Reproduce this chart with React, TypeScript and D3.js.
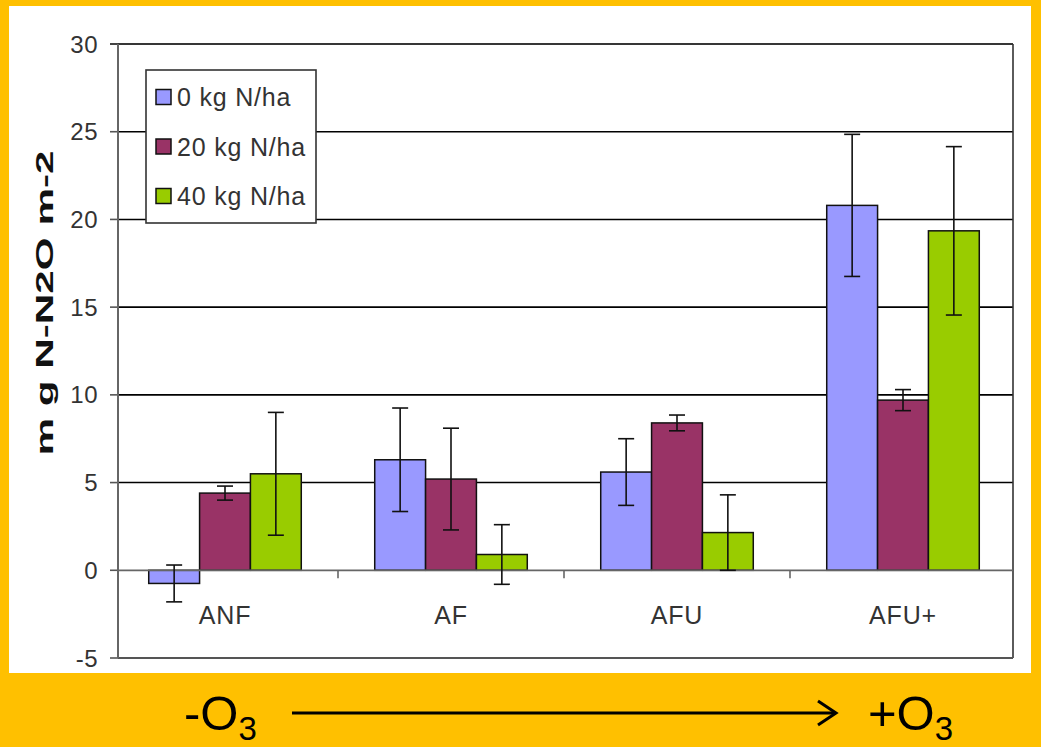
import React from "react";
import * as d3 from "d3";

const categories = ["ANF", "AF", "AFU", "AFU+"];
const seriesNames = ["0 kg N/ha", "20 kg N/ha", "40 kg N/ha"];
const seriesColors = ["#9999FF", "#993366", "#99CC00"];
const values0 = [-0.75, 6.3, 5.6, 20.8];
const values20 = [4.4, 5.2, 8.4, 9.7];
const values40 = [5.5, 0.9, 2.15, 19.35];
const errors0 = [1.05, 2.95, 1.9, 4.05];
const errors20 = [0.4, 2.9, 0.45, 0.6];
const errors40 = [3.5, 1.7, 2.15, 4.8];
const yTicks = [-5, 0, 5, 10, 15, 20, 25, 30];
const yLabel = "m g N-N2O m-2";

const W = 1041;
const H = 747;
const ORANGE = "#FFC000";

export default function App() {
  const plotL = 118;
  const plotR = 1013;
  const plotT = 44;
  const plotB = 658;
  const y = d3.scaleLinear().domain([-5, 30]).range([plotB, plotT]);
  const x0 = d3.scaleBand<string>().domain(categories).range([112, 1016]);
  const bw = x0.bandwidth();
  const groupW = bw * 0.675;
  const x1 = d3
    .scaleBand<string>()
    .domain(seriesNames)
    .range([(bw - groupW) / 2, (bw + groupW) / 2]);
  const vals = [values0, values20, values40];
  const errs = [errors0, errors20, errors40];
  const font = "'Liberation Sans', Arial, sans-serif";

  return (
    <svg
      width={W}
      height={H}
      style={{ position: "absolute", left: 0, top: 0, display: "block" }}
      fontFamily={font}
    >
      <rect x={0} y={0} width={W} height={H} fill={ORANGE} />
      <rect x={9} y={6} width={1022} height={667} fill="#ffffff" />

      {/* gridlines */}
      {yTicks
        .filter((t) => t !== -5 && t !== 0)
        .map((t) => (
          <line
            key={"g" + t}
            x1={plotL}
            x2={plotR}
            y1={y(t)}
            y2={y(t)}
            stroke="#000"
            strokeWidth={1.6}
          />
        ))}
      {/* plot frame right/bottom */}
      <line x1={plotR} x2={plotR} y1={plotT} y2={plotB} stroke="#333" strokeWidth={1.6} />
      <line x1={plotL} x2={plotR} y1={plotB} y2={plotB} stroke="#555" strokeWidth={1.8} />
      {/* y ticks and labels */}
      {yTicks.map((t) => (
        <g key={"t" + t}>
          <line x1={plotL - 8} x2={plotL} y1={y(t)} y2={y(t)} stroke="#555" strokeWidth={1.6} />
          <text
            x={98}
            y={y(t)}
            dy="0.36em"
            textAnchor="end"
            fontSize={24}
            letterSpacing={0.5}
            fill="#333"
          >
            {t}
          </text>
        </g>
      ))}
      <line x1={plotL - 8} x2={plotR} y1={plotT} y2={plotT} stroke="#333" strokeWidth={1.6} />

      {/* bars */}
      {categories.map((c, ci) => (
        <g key={c} transform={`translate(${x0(c)},0)`}>
          {seriesNames.map((s, si) => {
            const v = vals[si][ci];
            const top = y(Math.max(0, v));
            const bot = y(Math.min(0, v));
            return (
              <rect
                key={s}
                x={x1(s)}
                y={top}
                width={x1.bandwidth()}
                height={bot - top}
                fill={seriesColors[si]}
                stroke="#111"
                strokeWidth={1.5}
              />
            );
          })}
        </g>
      ))}

      {/* zero axis */}
      <line x1={plotL} x2={plotR} y1={y(0)} y2={y(0)} stroke="#666" strokeWidth={1.8} />
      {categories.slice(1).map((c) => (
        <line
          key={"ct" + c}
          x1={x0(c)}
          x2={x0(c)}
          y1={y(0)}
          y2={y(0) + 8}
          stroke="#666"
          strokeWidth={1.6}
        />
      ))}
      <line x1={plotL} x2={plotL} y1={plotT} y2={plotB} stroke="#666" strokeWidth={2} />

      {/* error bars */}
      {categories.map((c, ci) => (
        <g key={"e" + c} transform={`translate(${x0(c)},0)`}>
          {seriesNames.map((s, si) => {
            const v = vals[si][ci];
            const e = errs[si][ci];
            const cx = (x1(s) as number) + x1.bandwidth() / 2;
            const capW = 8;
            return (
              <g key={s} stroke="#111" strokeWidth={1.6}>
                <line x1={cx} x2={cx} y1={y(v + e)} y2={y(v - e)} />
                <line x1={cx - capW} x2={cx + capW} y1={y(v + e)} y2={y(v + e)} />
                <line x1={cx - capW} x2={cx + capW} y1={y(v - e)} y2={y(v - e)} />
              </g>
            );
          })}
        </g>
      ))}

      {/* category labels */}
      {categories.map((c) => (
        <text
          key={"cl" + c}
          x={(x0(c) as number) + bw / 2}
          y={624}
          textAnchor="middle"
          fontSize={25}
          letterSpacing={0.8}
          fill="#333"
        >
          {c}
        </text>
      ))}

      {/* y axis title */}
      <text
        transform={`translate(53,303) rotate(-90)`}
        textAnchor="middle"
        fontSize={24}
        fontWeight="bold"
        fill="#111"
        textLength={305}
        lengthAdjust="spacingAndGlyphs"
      >
        {yLabel}
      </text>

      {/* legend */}
      <rect x={146} y={70} width={170} height={153} fill="#fff" stroke="#333" strokeWidth={1.6} />
      {seriesNames.map((s, i) => {
        const cy = 97 + i * 49.5;
        return (
          <g key={"lg" + s}>
            <rect
              x={156}
              y={cy - 7.5}
              width={15}
              height={15}
              fill={seriesColors[i]}
              stroke="#111"
              strokeWidth={1.5}
            />
            <text x={177} y={cy} dy="0.36em" fontSize={25} letterSpacing={0.8} fill="#333">
              {s}
            </text>
          </g>
        );
      })}

      {/* bottom annotation */}
      <text x={184} y={730} fontSize={49} fill="#000">
        -O
        <tspan fontSize={33} dy={10}>
          3
        </tspan>
      </text>
      <line x1={292} x2={836} y1={713} y2={713} stroke="#000" strokeWidth={3} />
      <polyline
        points="818,701 836,713 818,725"
        fill="none"
        stroke="#000"
        strokeWidth={3}
      />
      <text x={868} y={730} fontSize={49} fill="#000">
        +O
        <tspan fontSize={33} dy={10}>
          3
        </tspan>
      </text>
    </svg>
  );
}
